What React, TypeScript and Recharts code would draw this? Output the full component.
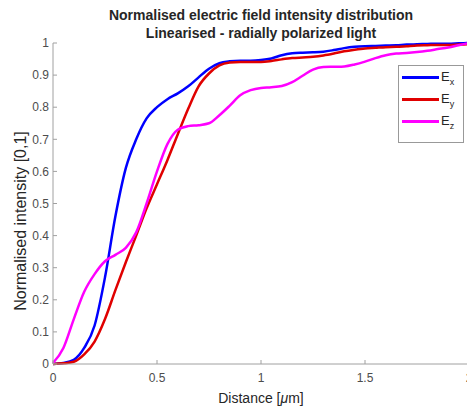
import { LineChart, Line, XAxis, YAxis } from "recharts";

const distance = [
  0, 0.05, 0.1, 0.15, 0.2, 0.25, 0.3, 0.35, 0.4, 0.45, 0.5, 0.55, 0.6, 0.65,
  0.7, 0.75, 0.8, 0.85, 0.9, 0.95, 1.0, 1.05, 1.1, 1.15, 1.2, 1.25, 1.3, 1.35,
  1.4, 1.45, 1.5, 1.55, 1.6, 1.65, 1.7, 1.75, 1.8, 1.85, 1.9, 1.95, 2.0,
];
const ex = [
  0, 0.003, 0.013, 0.05, 0.12, 0.27, 0.46, 0.61, 0.7, 0.765, 0.8, 0.825,
  0.843, 0.865, 0.893, 0.92, 0.937, 0.943, 0.945, 0.945, 0.947, 0.952, 0.962,
  0.968, 0.97, 0.971, 0.973, 0.978, 0.984, 0.988, 0.99, 0.991, 0.992, 0.993,
  0.995, 0.996, 0.997, 0.998, 0.998, 0.999, 1.0,
];
const ey = [
  0, 0.002, 0.007, 0.03, 0.07, 0.14, 0.23, 0.317, 0.4, 0.485, 0.56, 0.635,
  0.716, 0.795, 0.865, 0.905, 0.93, 0.939, 0.941, 0.941, 0.941, 0.944, 0.949,
  0.953, 0.955, 0.957, 0.961, 0.967, 0.974, 0.979, 0.983, 0.985, 0.987, 0.988,
  0.99, 0.992, 0.993, 0.994, 0.994, 0.995, 0.996,
];
const ez = [
  0.003, 0.05, 0.14, 0.225, 0.28, 0.32, 0.34, 0.362, 0.41, 0.5, 0.6, 0.685,
  0.73, 0.741, 0.744, 0.75, 0.775, 0.805, 0.837, 0.853, 0.86, 0.862, 0.866,
  0.878, 0.898, 0.917, 0.925, 0.926, 0.927, 0.933, 0.942, 0.953, 0.962, 0.967,
  0.969, 0.972, 0.976, 0.981, 0.986, 0.993, 1.0,
];
const xTicks = [0, 0.5, 1, 1.5, 2];
const yTicks = [0, 0.1, 0.2, 0.3, 0.4, 0.5, 0.6, 0.7, 0.8, 0.9, 1];

const series = [
  { key: "ex", sub: "x", color: "#0000ff" },
  { key: "ey", sub: "y", color: "#e00000" },
  { key: "ez", sub: "z", color: "#ff00ff" },
];

const rows = distance.map((d, i) => ({ d, ex: ex[i], ey: ey[i], ez: ez[i] }));

const font = "'Liberation Sans', Arial, sans-serif";
const axisGray = "#a0a0a0";
const tickText = { fill: "#4d4d4d", fontSize: 12, fontFamily: font };

// legend sits on top of the plot, like MATLAB's boxed legend
function FieldLegend() {
  return (
    <div
      style={{
        position: "absolute",
        left: 398,
        top: 65,
        width: 61,
        border: "1px solid #999",
        background: "#fff",
        padding: "0 0 10px 3px",
        fontFamily: font,
        fontSize: 13,
        color: "#262626",
        lineHeight: "22px",
      }}
    >
      {series.map((s) => (
        <div
          key={s.key}
          style={{ display: "flex", alignItems: "center", height: 22 }}
        >
          <span
            style={{
              display: "inline-block",
              width: 37,
              height: 3,
              background: s.color,
              marginRight: 2,
            }}
          />
          <span>
            E<sub style={{ fontSize: 9, lineHeight: 0 }}>{s.sub}</sub>
          </span>
        </div>
      ))}
    </div>
  );
}

export default function App() {
  return (
    <div
      style={{
        position: "absolute",
        left: 0,
        top: 0,
        width: 467,
        height: 406,
        overflow: "hidden",
        background: "#fff",
      }}
    >
      <div
        style={{
          position: "absolute",
          top: 6,
          left: 0,
          width: 522,
          textAlign: "center",
          fontFamily: font,
          fontWeight: "bold",
          fontSize: 14,
          lineHeight: "18px",
          color: "#262626",
        }}
      >
        Normalised electric field intensity distribution
        <br />
        Linearised - radially polarized light
      </div>
      <div
        style={{
          position: "absolute",
          left: 21,
          top: 221,
          transform: "translate(-50%, -50%) rotate(-90deg)",
          whiteSpace: "nowrap",
          fontFamily: font,
          fontSize: 16,
          color: "#262626",
        }}
      >
        Normalised intensity [0,1]
      </div>
      <div
        style={{
          position: "absolute",
          left: 261,
          top: 398,
          transform: "translate(-50%, -50%)",
          whiteSpace: "nowrap",
          fontFamily: font,
          fontSize: 14,
          color: "#262626",
        }}
      >
        Distance [<i>&mu;</i>m]
      </div>
      <LineChart
        width={472}
        height={406}
        data={rows}
        margin={{ top: 43, right: 3, bottom: 0, left: 0 }}
      >
        <XAxis
          dataKey="d"
          type="number"
          domain={[0, 2]}
          ticks={xTicks}
          height={42}
          stroke={axisGray}
          tickSize={-4}
          tickMargin={13}
          tick={tickText}
        />
        <XAxis
          xAxisId="top"
          orientation="top"
          dataKey="d"
          type="number"
          domain={[0, 2]}
          ticks={xTicks}
          height={0}
          stroke={axisGray}
          tickSize={-4}
          tick={false}
        />
        <YAxis
          type="number"
          domain={[0, 1]}
          ticks={yTicks}
          width={53}
          stroke={axisGray}
          tickSize={-4}
          tickMargin={8}
          tick={tickText}
          tickFormatter={(v: number) => String(v)}
        />
        <YAxis
          yAxisId="right"
          orientation="right"
          type="number"
          domain={[0, 1]}
          ticks={yTicks}
          width={0}
          stroke={axisGray}
          tickSize={-4}
          tick={false}
        />
        {series.map((s) => (
          <Line
            key={s.key}
            dataKey={s.key}
            type="monotone"
            stroke={s.color}
            strokeWidth={2.5}
            dot={false}
            isAnimationActive={false}
          />
        ))}
      </LineChart>
      <FieldLegend />
    </div>
  );
}
